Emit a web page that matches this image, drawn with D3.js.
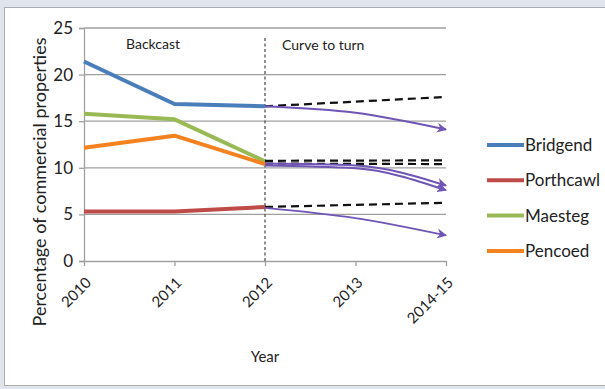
<!DOCTYPE html>
<html>
<head>
<meta charset="utf-8">
<script src="https://cdn.jsdelivr.net/npm/d3@7/dist/d3.min.js"></script>
<style>
  html, body { margin: 0; padding: 0; background: #dfe4ed; }
  svg { display: block; }
  text { font-family: Lato, "Open Sans", sans-serif; fill: #222; }
</style>
</head>
<body>
<svg id="chart" width="605" height="389"></svg>
<script>
// Periods on the x axis
const years = ["2010", "2011", "2012", "2013", "2014-15"];
const yTicks = [0, 5, 10, 15, 20, 25];

// Observed (backcast) shares, 2010–2012
const bridgend  = [21.4, 16.85, 16.6];
const porthcawl = [5.3, 5.3, 5.8];
const maesteg   = [15.8, 15.2, 10.7];
const pencoed   = [12.15, 13.45, 10.4];

// Straight-line continuation of trend, 2012 -> 2014-15
const trendBridgend  = [16.6, 17.6];
const trendMaesteg   = [10.75, 10.8];
const trendPencoed   = [10.45, 10.4];
const trendPorthcawl = [5.8, 6.25];

// Target "curve to turn" paths, 2012 -> 2013 -> 2014-15
const turnYears = ["2012", "2013", "2014-15"];
const turnBridgend  = [16.6, 15.9, 14.1];
const turnUpper     = [10.45, 10.25, 8.1];
const turnLower     = [10.25, 9.95, 7.6];
const turnPorthcawl = [5.7, 4.6, 2.75];

const seriesNames  = ["Bridgend", "Porthcawl", "Maesteg", "Pencoed"];
const seriesValues = [bridgend, porthcawl, maesteg, pencoed];
const colors = ["#4a7ebb", "#be4b48", "#98b954", "#f58220"];

const svg = d3.select("#chart");

// Chart panel
svg.append("rect").attr("x", 4.5).attr("y", 7.5).attr("width", 605).attr("height", 378)
  .attr("fill", "#fff").attr("stroke", "#a9adb3").attr("stroke-width", 1);

const x = d3.scalePoint().domain(years).range([84, 446]);
const y = d3.scaleLinear().domain([0, 25]).range([261, 28]);

// Horizontal gridlines
svg.append("g").selectAll("line").data(yTicks.filter(d => d > 0)).join("line")
  .attr("x1", 84).attr("x2", 446)
  .attr("y1", d => y(d)).attr("y2", d => y(d))
  .attr("stroke", "#a0a0a0").attr("stroke-width", 1.3);

// Y axis
const yAxis = svg.append("g").attr("transform", "translate(84,0)")
  .call(d3.axisLeft(y).tickValues(yTicks).tickSize(5).tickPadding(6));
yAxis.select(".domain").attr("stroke", "#a0a0a0").attr("stroke-width", 1.3);
yAxis.selectAll(".tick line").attr("stroke", "#a0a0a0").attr("stroke-width", 1.3);
yAxis.selectAll("text").attr("font-size", 17).attr("fill", "#222")
  .style("font-family", "Lato, 'Open Sans', sans-serif");

// X axis
const xAxis = svg.append("g").attr("transform", "translate(0,261)")
  .call(d3.axisBottom(x).tickSize(5).tickSizeOuter(0));
xAxis.select(".domain").attr("stroke", "#a0a0a0").attr("stroke-width", 1.3);
xAxis.selectAll(".tick line").attr("stroke", "#a0a0a0").attr("stroke-width", 1.3);
xAxis.selectAll("text").attr("font-size", 15).attr("fill", "#222")
  .style("font-family", "Lato, 'Open Sans', sans-serif")
  .attr("text-anchor", "end")
  .attr("x", 0).attr("y", 0)
  .attr("dy", "0.35em")
  .attr("transform", "translate(4,19) rotate(-45)");

// Divider between backcast and projection
svg.append("line")
  .attr("x1", x("2012")).attr("x2", x("2012"))
  .attr("y1", 38).attr("y2", 261)
  .attr("stroke", "#444").attr("stroke-width", 1.2).attr("stroke-dasharray", "3,2.5");

svg.append("text").attr("x", 126).attr("y", 49).attr("font-size", 14).text("Backcast");
svg.append("text").attr("x", 282).attr("y", 50).attr("font-size", 14).text("Curve to turn");

// Observed lines
const line = d3.line().x((d, i) => x(years[i])).y(d => y(d));
seriesValues.forEach((vals, i) => {
  svg.append("path").datum(vals)
    .attr("d", line).attr("fill", "none")
    .attr("stroke", colors[i]).attr("stroke-width", 4)
    .attr("stroke-linejoin", "round");
});

// Trend continuations (dashed)
const trendX = ["2012", "2014-15"];
const trendLine = d3.line().x((d, i) => x(trendX[i])).y(d => y(d));
[trendBridgend, trendMaesteg, trendPencoed, trendPorthcawl].forEach(vals => {
  svg.append("path").datum(vals)
    .attr("d", trendLine).attr("fill", "none")
    .attr("stroke", "#111").attr("stroke-width", 2.2)
    .attr("stroke-dasharray", "8,5");
});

// Arrowhead
const purple = "#6f55b5";
svg.append("defs").append("marker")
  .attr("id", "arrow").attr("viewBox", "0 0 10 10")
  .attr("refX", 9).attr("refY", 5)
  .attr("markerWidth", 5).attr("markerHeight", 5)
  .attr("markerUnits", "strokeWidth")
  .attr("orient", "auto")
  .append("path").attr("d", "M0,0 L10,5 L0,10 L3,5 Z").attr("fill", purple);

// Curve-to-turn paths
const turnLine = d3.line().x((d, i) => x(turnYears[i])).y(d => y(d)).curve(d3.curveMonotoneX);
[turnBridgend, turnUpper, turnLower, turnPorthcawl].forEach(vals => {
  svg.append("path").datum(vals)
    .attr("d", turnLine).attr("fill", "none")
    .attr("stroke", purple).attr("stroke-width", 2)
    .attr("marker-end", "url(#arrow)");
});

// Legend
const legend = svg.append("g");
seriesNames.forEach((name, i) => {
  const ly = 145 + i * 35.3;
  legend.append("line").attr("x1", 487).attr("x2", 524).attr("y1", ly).attr("y2", ly)
    .attr("stroke", colors[i]).attr("stroke-width", 4);
  legend.append("text").attr("x", 525).attr("y", ly).attr("dy", "0.35em")
    .attr("font-size", 17).text(name);
});

// Axis titles
svg.append("text").attr("x", x("2012")).attr("y", 362).attr("text-anchor", "middle")
  .attr("font-size", 15).text("Year");
svg.append("text").attr("transform", "translate(46,182) rotate(-90)")
  .attr("text-anchor", "middle").attr("font-size", 18)
  .text("Percentage of commercial properties");
</script>
</body>
</html>
